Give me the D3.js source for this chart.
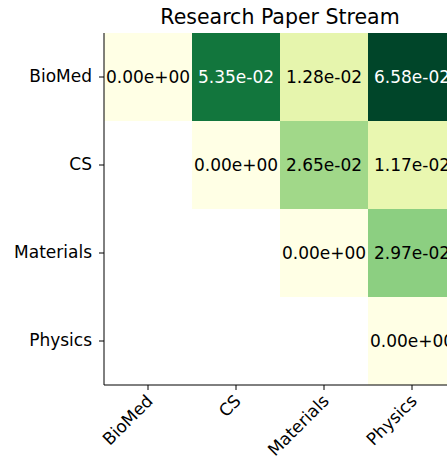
<!DOCTYPE html>
<html><head><meta charset="utf-8">
<script src="https://cdn.jsdelivr.net/npm/d3@7"></script>
<style>body{margin:0;background:#fff}text{font-family:"DejaVu Sans",sans-serif}</style>
</head><body><svg id="c" width="447" height="460"></svg>
<script>
// Heatmap data, upper triangle only
const categories = ["BioMed", "CS", "Materials", "Physics"];
const values = [
  [0.0, 0.0535, 0.0128, 0.0658],
  [null, 0.0, 0.0265, 0.0117],
  [null, null, 0.0, 0.0297],
  [null, null, null, 0.0]
];
const title = "Research Paper Stream";

const svg = d3.select('#c');
const plotLeft = 104, plotTop = 33, size = 352;

const x = d3.scaleBand().domain(categories).range([plotLeft, plotLeft + size]);
const y = d3.scaleBand().domain(categories).range([plotTop, plotTop + size]);
const vmax = d3.max(values.flat().filter(v => v != null));
const color = d3.scaleSequential(d3.interpolateYlGn).domain([0, vmax]);

const cells = [];
values.forEach((row, i) => row.forEach((v, j) => {
  if (v != null) cells.push({ r: categories[i], c: categories[j], v });
}));

svg.selectAll('rect.cell').data(cells).enter().append('rect')
  .attr('x', d => x(d.c)).attr('y', d => y(d.r))
  .attr('width', x.bandwidth()).attr('height', y.bandwidth())
  .attr('fill', d => color(d.v));

svg.selectAll('text.val').data(cells).enter().append('text')
  .attr('x', d => x(d.c) + x.bandwidth() / 2)
  .attr('y', d => y(d.r) + y.bandwidth() / 2)
  .attr('text-anchor', 'middle').attr('dominant-baseline', 'central')
  .attr('font-size', 17)
  .attr('fill', d => d.v / vmax > 0.6 ? '#fff' : '#000')
  .text(d => d.v.toExponential(2).replace(/e([+-])(\d)$/, 'e$10$2'));

// axes
const yAxis = svg.append('g').attr('transform', `translate(${plotLeft},0)`)
  .call(d3.axisLeft(y).tickSize(5).tickPadding(7));
const xAxis = svg.append('g').attr('transform', `translate(0,${plotTop + size})`)
  .call(d3.axisBottom(x).tickSize(5).tickPadding(4));
[xAxis, yAxis].forEach(g => {
  g.selectAll('text').attr('font-size', 17).attr('fill', '#000')
    .style('font-family', '"DejaVu Sans",sans-serif');
  g.select('.domain').attr('stroke', '#000');
  g.selectAll('.tick line').attr('stroke', '#000');
});
xAxis.select('.domain').attr('d', `M${plotLeft},0H${plotLeft + size}`);
yAxis.select('.domain').attr('d', `M0,${plotTop}V${plotTop + size}`);
xAxis.selectAll('text')
  .attr('text-anchor', 'end').attr('dy', null).attr('y', 0)
  .attr('transform', 'translate(6,17) rotate(-45)');

svg.append('text').attr('x', plotLeft + size / 2).attr('y', 24)
  .attr('text-anchor', 'middle').attr('font-size', 20.5).text(title);
</script></body></html>
